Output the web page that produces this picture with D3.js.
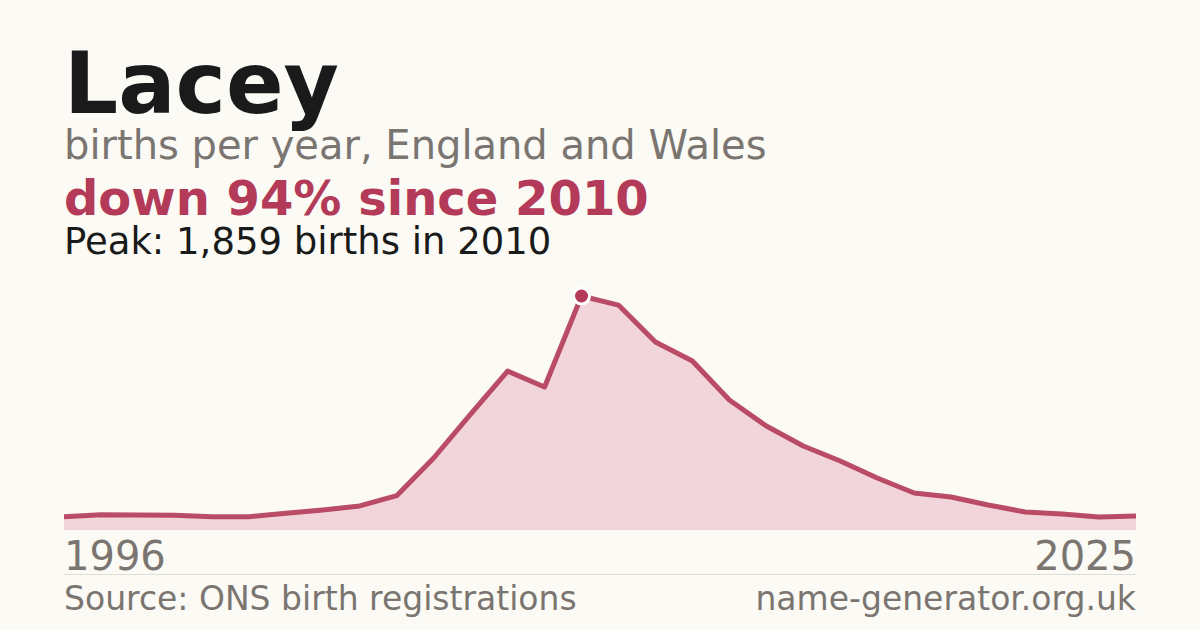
<!DOCTYPE html>
<html>
<head>
<meta charset="utf-8">
<script src="https://cdn.jsdelivr.net/npm/d3@7"></script>
<style>
  html, body { margin: 0; padding: 0; background: #fbfaf5; }
  svg { display: block; font-family: "DejaVu Sans", sans-serif; }
</style>
</head>
<body>
<div id="wrapper"></div>
<script>
const years = d3.range(1996, 2026)
const births = [
  106, 122, 119, 117, 106, 106, 133, 159, 191, 273,
  572, 921, 1263, 1136, 1859, 1787, 1493, 1343, 1033, 826,
  667, 548, 413, 294, 262, 199, 143, 127, 103, 111
]
const nameLabel = "Lacey"
const subtitle = "births per year, England and Wales"
const changeLabel = "down 94% since 2010"
const peakLabel = "Peak: 1,859 births in 2010"
const sourceLabel = "Source: ONS birth registrations"
const siteLabel = "name-generator.org.uk"

const dataset = years.map((y, i) => ({ year: y, births: births[i] }))
const xAccessor = d => d.year
const yAccessor = d => d.births

const width = 1200
const height = 630
const margin = { left: 64, right: 64 }
const chartTop = 296
const chartBottom = 530

const svg = d3.select("#wrapper")
  .append("svg")
    .attr("width", width)
    .attr("height", height)

svg.append("rect")
  .attr("width", width)
  .attr("height", height)
  .attr("fill", "#fbfaf5")

// headings
svg.append("text")
  .attr("x", margin.left).attr("y", 113)
  .attr("font-size", 85).attr("font-weight", "bold")
  .attr("fill", "#1a1a1a")
  .text(nameLabel)

svg.append("text")
  .attr("x", margin.left).attr("y", 159)
  .attr("font-size", 40)
  .attr("fill", "#7a7570")
  .text(subtitle)

svg.append("text")
  .attr("x", margin.left).attr("y", 215)
  .attr("font-size", 48).attr("font-weight", "bold")
  .attr("fill", "#b33a58")
  .text(changeLabel)

svg.append("text")
  .attr("x", margin.left).attr("y", 254)
  .attr("font-size", 37)
  .attr("fill", "#1a1a1a")
  .text(peakLabel)

// scales
const xScale = d3.scaleLinear()
  .domain(d3.extent(dataset, xAccessor))
  .range([margin.left, width - margin.right])

const yScale = d3.scaleLinear()
  .domain([0, d3.max(dataset, yAccessor)])
  .range([chartBottom, chartTop])

const area = d3.area()
  .x(d => xScale(xAccessor(d)))
  .y0(yScale(0))
  .y1(d => yScale(yAccessor(d)))

const line = d3.line()
  .x(d => xScale(xAccessor(d)))
  .y(d => yScale(yAccessor(d)))

svg.append("path")
  .datum(dataset)
  .attr("d", area)
  .attr("fill", "#f2d5da")

svg.append("path")
  .datum(dataset)
  .attr("d", line)
  .attr("fill", "none")
  .attr("stroke", "#b33a58")
  .attr("stroke-width", 5)
  .attr("stroke-opacity", 0.9)
  .attr("stroke-linejoin", "round")

const peak = dataset.reduce((a, b) => yAccessor(b) > yAccessor(a) ? b : a)
svg.append("circle")
  .attr("cx", xScale(xAccessor(peak)))
  .attr("cy", yScale(yAccessor(peak)))
  .attr("r", 8)
  .attr("fill", "#b33a58")
  .attr("stroke", "#ffffff")
  .attr("stroke-width", 3)

// year labels
const [firstYear, lastYear] = xScale.domain()
svg.append("text")
  .attr("x", xScale(firstYear)).attr("y", 570)
  .attr("font-size", 40).attr("fill", "#7a7570")
  .text(firstYear)

svg.append("text")
  .attr("x", xScale(lastYear)).attr("y", 570)
  .attr("text-anchor", "end")
  .attr("font-size", 40).attr("fill", "#7a7570")
  .text(lastYear)

// footer
svg.append("line")
  .attr("x1", margin.left).attr("x2", width - margin.right)
  .attr("y1", 574.5).attr("y2", 574.5)
  .attr("stroke", "#e0ddd6").attr("stroke-width", 1)

svg.append("text")
  .attr("x", margin.left).attr("y", 610)
  .attr("font-size", 33).attr("fill", "#7a7570")
  .text(sourceLabel)

svg.append("text")
  .attr("x", width - margin.right).attr("y", 610)
  .attr("text-anchor", "end")
  .attr("font-size", 33).attr("fill", "#7a7570")
  .text(siteLabel)
</script>
</body>
</html>
